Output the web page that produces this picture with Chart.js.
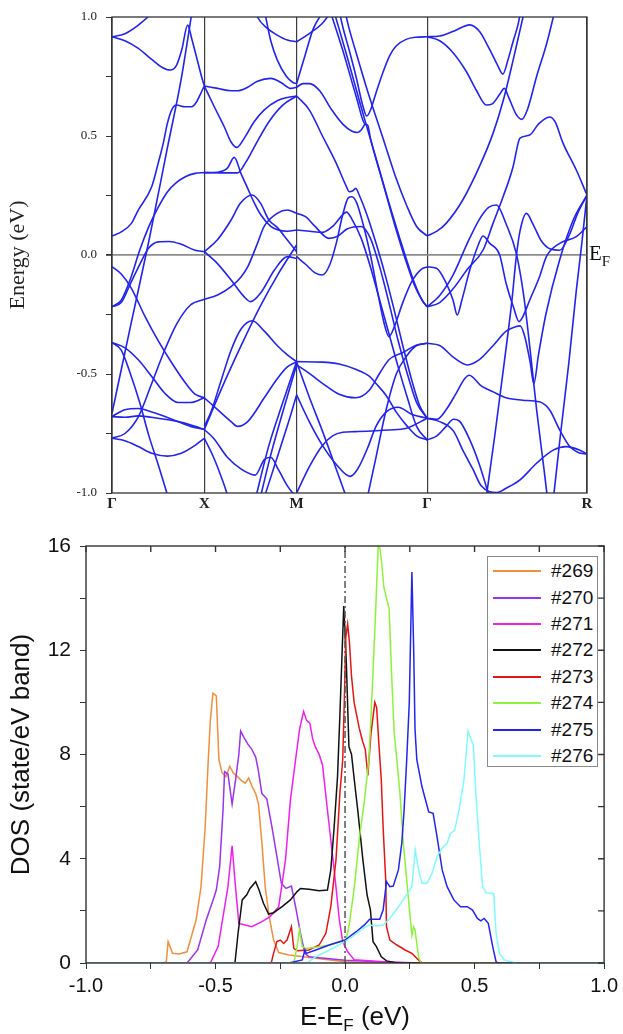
<!DOCTYPE html>
<html>
<head>
<meta charset="utf-8">
<script src="https://cdn.jsdelivr.net/npm/chart.js@4.4.1/dist/chart.umd.min.js"></script>
<style>
  html, body { margin: 0; padding: 0; background: #fff; }
  #wrap { position: relative; width: 623px; height: 1034px; overflow: hidden; }
  #bands { position: absolute; left: 0; top: 0; }
  #dos { position: absolute; left: 0; top: 520px; }
  #ef { position: absolute; left: 589px; top: 241px; font-family: "Liberation Serif", serif; font-size: 21px; color: #111; }
  #ef sub { font-size: 15px; vertical-align: -6px; }
  #xtitle { position: absolute; left: 250px; width: 210px; top: 1001px; text-align: center;
            font-family: "Liberation Sans", Arial, sans-serif; font-size: 26px; color: #111; }
  #xtitle sub { font-size: 17px; vertical-align: -6px; }
  #legend { position: absolute; left: 487px; top: 556px; width: 111px; height: 211px; box-sizing: border-box;
            border: 1px solid #8a8a8a; background: #fff; font-family: "Liberation Sans", Arial, sans-serif;
            font-size: 19px; color: #111; padding-top: 1px; }
  #legend .row { height: 26.4px; display: flex; align-items: center; }
  #legend .line { display: inline-block; width: 48px; height: 2px; margin: 0 10px 0 5px; }
</style>
</head>
<body>
<div id="wrap">
  <canvas id="bands" width="623" height="520"></canvas>
  <canvas id="dos" width="623" height="514"></canvas>
  <div id="ef">E<sub>F</sub></div>
  <div id="xtitle">E-E<sub>F</sub> (eV)</div>
  <div id="legend"></div>
</div>
<script>
// ---- band structure: k path in units of pi/a, energies in eV ----
const kPoints = [0, 1, 2, 3.414, 5.146];
const kLabels = ['Γ', 'X', 'M', 'Γ', 'R'];

// Γ - X
const bandsGX = [
  [[0,0.917],[0.14,0.93],[0.285,0.966],[0.39,1.0],[0.5,1.04]],
  [[0,0.917],[0.14,0.90],[0.285,0.868],[0.43,0.822],[0.54,0.789],[0.63,0.777],[0.70,0.798],[0.755,0.861],[0.82,0.966],[0.863,0.91],[0.917,0.83],[0.97,0.75],[1.0,0.71]],
  [[0,0.08],[0.105,0.098],[0.21,0.133],[0.285,0.189],[0.43,0.287],[0.50,0.385],[0.555,0.469],[0.60,0.553],[0.646,0.609],[0.70,0.63],[0.79,0.623],[0.863,0.623],[0.917,0.644],[0.97,0.686],[1.0,0.71]],
  [[0,-0.665],[0.2,-0.30],[0.4,0.06],[0.6,0.45],[0.75,0.74],[0.87,1.03]],
  [[0,-0.217],[0.1,-0.2],[0.2,-0.12],[0.3,-0.04],[0.4,0.03],[0.5,0.055],[0.62,0.057],[0.75,0.045],[0.9,0.02],[1.0,0.014]],
  [[0,-0.217],[0.1,-0.19],[0.2,-0.10],[0.3,0.02],[0.4,0.12],[0.5,0.2],[0.6,0.265],[0.7,0.305],[0.8,0.33],[0.9,0.343],[1.0,0.346]],
  [[0,-0.049],[0.1,-0.08],[0.21,-0.14],[0.36,-0.26],[0.5,-0.36],[0.65,-0.455],[0.8,-0.54],[0.9,-0.585],[1.0,-0.60]],
  [[0,-0.368],[0.14,-0.39],[0.285,-0.44],[0.43,-0.51],[0.57,-0.58],[0.72,-0.62],[0.85,-0.62],[1.0,-0.60]],
  [[0,-0.368],[0.1,-0.40],[0.2,-0.50],[0.3,-0.62],[0.4,-0.76],[0.5,-0.88],[0.61,-1.02]],
  [[0,-0.77],[0.14,-0.75],[0.285,-0.68],[0.43,-0.54],[0.57,-0.40],[0.7,-0.29],[0.85,-0.21],[1.0,-0.186]],
  [[0,-0.679],[0.14,-0.65],[0.285,-0.645],[0.43,-0.66],[0.65,-0.69],[0.85,-0.72],[1.0,-0.733]],
  [[0,-0.679],[0.14,-0.682],[0.285,-0.676],[0.5,-0.686],[0.72,-0.70],[0.9,-0.72],[1.0,-0.733]],
  [[0,-0.77],[0.14,-0.78],[0.285,-0.805],[0.43,-0.833],[0.6,-0.845],[0.75,-0.833],[0.9,-0.80],[1.0,-0.77]],
];

// X - M
const bandsXM = [
  [[1.55,1.03],[1.576,1.0],[1.683,0.952],[1.79,0.924],[1.90,0.903],[2.0,0.896]],
  [[1.0,0.71],[1.144,0.70],[1.288,0.69],[1.36,0.69],[1.47,0.705],[1.576,0.73],[1.72,0.742],[1.83,0.725],[1.935,0.70],[2.0,0.705]],
  [[1.65,1.03],[1.72,0.90],[1.79,0.82],[1.89,0.75],[1.96,0.725],[2.0,0.72]],
  [[1.0,0.71],[1.108,0.623],[1.216,0.539],[1.288,0.476],[1.353,0.452],[1.432,0.49],[1.54,0.56],[1.647,0.609],[1.79,0.648],[1.9,0.662],[2.0,0.668]],
  [[1.0,0.346],[1.144,0.348],[1.25,0.365],[1.324,0.41],[1.40,0.34],[1.47,0.28],[1.54,0.22],[1.61,0.17],[1.72,0.12],[1.80,0.105],[1.90,0.10],[2.0,0.105]],
  [[1.0,0.014],[1.14,0.063],[1.29,0.147],[1.39,0.217],[1.52,0.252],[1.61,0.217],[1.70,0.147],[1.79,0.116],[1.90,0.063],[2.0,0.014]],
  [[1.0,0.346],[1.2,0.345],[1.36,0.345],[1.45,0.39],[1.55,0.46],[1.70,0.56],[1.85,0.63],[2.0,0.668]],
  [[1.0,0.014],[1.14,-0.035],[1.29,-0.105],[1.43,-0.175],[1.50,-0.196],[1.61,-0.16],[1.76,-0.063],[1.90,-0.007],[2.0,-0.014]],
  [[1.0,-0.186],[1.144,-0.168],[1.29,-0.133],[1.40,-0.091],[1.47,-0.05],[1.576,0.049],[1.647,0.119],[1.79,0.175],[1.90,0.189],[2.0,0.175]],
  [[1.0,-0.72],[1.072,-0.66],[1.18,-0.53],[1.29,-0.40],[1.40,-0.31],[1.52,-0.276],[1.65,-0.32],[1.79,-0.38],[1.90,-0.42],[2.0,-0.448]],
  [[1.0,-0.60],[1.144,-0.65],[1.29,-0.70],[1.36,-0.72],[1.47,-0.70],[1.65,-0.60],[1.79,-0.52],[1.90,-0.47],[2.0,-0.448]],
  [[1.55,-1.03],[1.70,-0.80],[1.85,-0.62],[2.0,-0.448]],
  [[1.60,-1.03],[1.72,-0.84],[1.85,-0.66],[2.0,-0.462]],
  [[1.64,-1.03],[1.79,-0.85],[1.93,-0.68],[2.0,-0.588]],
  [[1.0,-0.733],[1.2,-0.55],[1.4,-0.38],[1.6,-0.22],[1.8,-0.08],[2.0,0.042]],
  [[1.0,-0.733],[1.1,-0.77],[1.25,-0.85],[1.4,-0.90],[1.55,-0.925],[1.65,-0.86],[1.72,-0.85],[1.8,-0.9],[1.9,-0.97],[2.0,-1.02]],
  [[1.0,-0.77],[1.1,-0.85],[1.2,-0.95],[1.27,-1.03]],
];

// M - Γ
const bandsMG = [
  [[2.0,0.896],[2.137,0.93],[2.282,0.975],[2.39,1.03]],
  [[2.0,0.72],[2.10,0.85],[2.18,0.95],[2.30,1.03]],
  [[2.46,1.03],[2.50,0.959],[2.57,0.86],[2.644,0.749],[2.72,0.623],[2.76,0.584],[2.80,0.608],[2.86,0.681],[2.934,0.766],[3.006,0.836],[3.078,0.878],[3.186,0.906],[3.29,0.915],[3.414,0.917]],
  [[2.52,1.03],[2.57,0.95],[2.66,0.83],[2.76,0.70],[2.86,0.58],[2.97,0.45],[3.08,0.32],[3.19,0.21],[3.30,0.12],[3.414,0.08]],
  [[2.36,1.03],[2.50,0.86],[2.65,0.66],[2.74,0.55],[2.77,0.545],[2.80,0.49],[2.93,0.31],[3.06,0.13],[3.18,-0.02],[3.28,-0.13],[3.36,-0.19],[3.414,-0.218]],
  [[2.40,1.03],[2.55,0.83],[2.70,0.62],[2.85,0.42],[3.0,0.22],[3.15,0.03],[3.27,-0.11],[3.36,-0.19],[3.414,-0.218]],
  [[2.0,0.705],[2.07,0.72],[2.14,0.72],[2.25,0.69],[2.38,0.61],[2.50,0.55],[2.60,0.52],[2.66,0.515],[2.70,0.525],[2.74,0.55]],
  [[2.0,0.668],[2.137,0.61],[2.28,0.50],[2.43,0.385],[2.54,0.287],[2.57,0.266],[2.61,0.27],[2.64,0.28],[2.68,0.25],[2.77,0.16],[2.86,0.05],[2.95,-0.07],[3.05,-0.22],[3.15,-0.38],[3.25,-0.53],[3.33,-0.63],[3.414,-0.686]],
  [[2.0,-0.007],[2.10,-0.04],[2.2,-0.075],[2.28,-0.084],[2.36,-0.04],[2.43,0.05],[2.50,0.17],[2.56,0.24],[2.60,0.245],[2.65,0.22],[2.72,0.13],[2.80,0.0],[2.88,-0.16],[2.95,-0.29],[3.0,-0.343],[3.06,-0.30],[3.15,-0.20],[3.25,-0.11],[3.35,-0.06],[3.414,-0.05]],
  [[2.0,0.105],[2.14,0.10],[2.28,0.095],[2.39,0.12],[2.50,0.17],[2.54,0.18],[2.60,0.15],[2.70,0.07],[2.80,-0.05],[2.90,-0.19],[3.0,-0.33],[3.1,-0.47],[3.2,-0.60],[3.3,-0.72],[3.414,-0.777]],
  [[2.0,0.175],[2.1,0.16],[2.2,0.12],[2.35,0.07],[2.45,0.08],[2.55,0.11],[2.70,0.12],[2.80,0.07],[2.90,-0.05],[3.0,-0.2],[3.1,-0.36],[3.2,-0.50],[3.3,-0.62],[3.414,-0.686]],
  [[2.0,-0.448],[2.28,-0.45],[2.46,-0.458],[2.64,-0.48],[2.79,-0.51],[2.86,-0.54],[2.97,-0.59],[3.08,-0.66],[3.2,-0.72],[3.3,-0.76],[3.414,-0.777]],
  [[2.0,-0.462],[2.137,-0.497],[2.28,-0.539],[2.46,-0.585],[2.64,-0.60],[2.79,-0.567],[2.9,-0.497],[3.0,-0.44],[3.15,-0.41],[3.29,-0.38],[3.414,-0.371]],
  [[2.0,-0.588],[2.137,-0.70],[2.28,-0.80],[2.43,-0.88],[2.58,-0.93],[2.66,-0.90],[2.77,-0.81],[2.86,-0.72],[2.97,-0.66],[3.1,-0.64],[3.25,-0.67],[3.414,-0.686]],
  [[2.0,-1.0],[2.137,-0.89],[2.28,-0.80],[2.39,-0.76],[2.50,-0.745],[2.64,-0.742],[3.0,-0.735],[3.19,-0.728],[3.414,-0.686]],
  [[2.0,-0.45],[2.14,-0.6],[2.28,-0.74],[2.43,-0.9],[2.55,-1.03]],
  [[2.76,-1.03],[2.86,-0.85],[2.97,-0.65],[3.08,-0.50],[3.2,-0.42],[3.3,-0.38],[3.414,-0.371]],
];

// Γ - R
const bandsGR = [
  [[3.414,0.917],[3.55,0.92],[3.70,0.94],[3.876,0.967],[3.98,0.94],[4.09,0.865],[4.18,0.795],[4.235,0.76],[4.29,0.82],[4.34,0.89],[4.40,0.97],[4.43,1.03]],
  [[3.414,0.917],[3.55,0.90],[3.695,0.85],[3.84,0.77],[3.95,0.69],[4.056,0.63],[4.12,0.635],[4.20,0.675],[4.25,0.70],[4.30,0.66],[4.38,0.59],[4.44,0.57],[4.50,0.61],[4.60,0.75],[4.71,0.89],[4.80,1.03]],
  [[3.414,0.08],[3.52,0.10],[3.62,0.133],[3.80,0.231],[3.98,0.371],[4.128,0.511],[4.24,0.651],[4.345,0.818],[4.453,1.0],[4.47,1.03]],
  [[3.414,-0.218],[3.55,-0.20],[3.70,-0.14],[3.85,-0.06],[4.02,0.021],[4.128,0.133],[4.237,0.245],[4.345,0.371],[4.40,0.47],[4.417,0.49],[4.525,0.504],[4.62,0.55],[4.74,0.58],[4.80,0.56],[4.886,0.47],[5.03,0.357],[5.146,0.252]],
  [[3.414,-0.218],[3.55,-0.17],[3.70,-0.08],[3.85,0.05],[3.98,0.15],[4.08,0.20],[4.165,0.21],[4.27,0.13],[4.38,0.007],[4.46,-0.17],[4.53,-0.40],[4.60,-0.65],[4.68,-0.90],[4.72,-1.03]],
  [[3.414,-0.05],[3.515,-0.056],[3.623,-0.12],[3.695,-0.19],[3.74,-0.252],[3.79,-0.19],[3.876,-0.063],[3.966,0.04],[4.02,0.08],[4.09,0.05],[4.20,0.0],[4.27,-0.12],[4.35,-0.22],[4.41,-0.28],[4.45,-0.26],[4.525,-0.19],[4.633,-0.09],[4.706,-0.007],[4.85,0.049],[5.03,0.077],[5.146,0.119]],
  [[4.05,-1.03],[4.15,-0.75],[4.25,-0.45],[4.33,-0.2],[4.38,-0.007],[4.42,0.1],[4.49,0.175],[4.56,0.13],[4.65,0.06],[4.75,0.025],[4.85,0.02],[4.95,0.08],[5.05,0.18],[5.146,0.252]],
  [[3.414,-0.371],[3.55,-0.38],[3.70,-0.43],[3.85,-0.462],[3.98,-0.44],[4.13,-0.38],[4.27,-0.32],[4.38,-0.30],[4.42,-0.298],[4.47,-0.34],[4.53,-0.45],[4.57,-0.54],[4.62,-0.42],[4.70,-0.25],[4.85,-0.02],[5.0,0.15],[5.146,0.252]],
  [[3.414,-0.686],[3.52,-0.69],[3.62,-0.65],[3.73,-0.58],[3.82,-0.52],[3.87,-0.505],[4.0,-0.55],[4.13,-0.575],[4.27,-0.60],[4.45,-0.61],[4.63,-0.617],[4.74,-0.65],[4.85,-0.735],[4.96,-0.805],[5.05,-0.83],[5.146,-0.836]],
  [[3.414,-0.686],[3.55,-0.70],[3.70,-0.74],[3.80,-0.82],[3.91,-0.90],[4.0,-0.97],[4.17,-0.998],[4.27,-0.98],[4.42,-0.945],[4.60,-0.875],[4.78,-0.82],[4.92,-0.805],[5.07,-0.82],[5.146,-0.836]],
  [[3.414,-0.777],[3.52,-0.76],[3.62,-0.72],[3.70,-0.69],[3.77,-0.70],[3.88,-0.78],[3.98,-0.88],[4.06,-0.98],[4.10,-1.03]],
  [[4.78,-1.03],[4.86,-0.75],[4.95,-0.45],[5.03,-0.15],[5.09,0.05],[5.146,0.252]],
];

// ---- DOS: energy (eV) vs DOS (state/eV band) ----
const dosNames = ['#269', '#270', '#271', '#272', '#273', '#274', '#275', '#276'];
const dosColors = ['#f08f3e', '#9a34ee', '#f01ff0', '#111111', '#e81414', '#8ef23c', '#2424f2', '#80fbfb'];

const dos269 = [[-1,0],[-0.70,0],[-0.69,0.05],[-0.683,0.82],[-0.666,0.37],[-0.64,0.35],[-0.61,0.43],[-0.575,1.65],[-0.556,2.93],[-0.54,5.2],[-0.528,7.8],[-0.52,9.3],[-0.51,10.35],[-0.497,10.25],[-0.487,7.8],[-0.475,7.3],[-0.46,7.15],[-0.445,7.55],[-0.432,7.3],[-0.415,7.15],[-0.40,7.0],[-0.385,6.9],[-0.372,7.1],[-0.36,6.8],[-0.345,6.5],[-0.334,6.1],[-0.321,4.6],[-0.308,2.9],[-0.293,1.8],[-0.276,0.88],[-0.256,0.40],[-0.217,0.31],[-0.113,0.18],[0,0.05],[0.08,0],[1,0]];
const dos270 = [[-1,0],[-0.61,0],[-0.569,0.5],[-0.536,1.65],[-0.51,2.4],[-0.497,2.8],[-0.484,3.7],[-0.471,5.87],[-0.465,7.34],[-0.452,7.25],[-0.436,6.1],[-0.423,7.0],[-0.41,8.0],[-0.403,8.9],[-0.39,8.65],[-0.375,8.4],[-0.36,8.2],[-0.345,7.9],[-0.335,7.4],[-0.321,6.5],[-0.302,6.3],[-0.282,5.2],[-0.263,4.08],[-0.246,3.06],[-0.228,2.86],[-0.207,2.95],[-0.191,2.16],[-0.172,1.14],[-0.155,0.37],[-0.139,0.24],[0,0.11],[0.147,0.04],[0.3,0],[1,0]];
const dos271 = [[-1,0],[-0.52,0],[-0.49,0.63],[-0.471,1.78],[-0.452,2.93],[-0.436,4.5],[-0.423,2.93],[-0.41,1.52],[-0.386,1.46],[-0.36,1.39],[-0.321,1.59],[-0.289,1.78],[-0.256,2.16],[-0.23,3.95],[-0.211,6.25],[-0.191,7.8],[-0.175,9.0],[-0.16,9.65],[-0.148,9.3],[-0.136,9.2],[-0.125,8.6],[-0.115,8.3],[-0.10,8.0],[-0.087,7.6],[-0.068,5.87],[-0.042,3.57],[-0.022,1.65],[-0.009,0.82],[0.01,0.43],[0.036,0.12],[0.147,0.05],[0.25,0],[1,0]];
const dos272 = [[-1,0],[-0.425,0],[-0.413,1.14],[-0.397,2.42],[-0.38,2.61],[-0.367,2.86],[-0.345,3.12],[-0.332,2.8],[-0.315,2.29],[-0.295,1.88],[-0.276,1.93],[-0.243,2.16],[-0.211,2.42],[-0.185,2.74],[-0.172,2.86],[-0.139,2.83],[-0.10,2.77],[-0.068,2.8],[-0.055,3.57],[-0.042,5.23],[-0.029,7.15],[-0.02,9.5],[-0.005,13.7],[0.005,11.5],[0.015,8.3],[0.025,8.0],[0.036,7.0],[0.049,5.87],[0.069,3.95],[0.085,2.61],[0.098,2.03],[0.108,0.82],[0.121,0.63],[0.14,0.24],[0.16,0.08],[0.2,0],[1,0]];
const dos273 = [[-1,0],[-0.285,0],[-0.276,0.37],[-0.263,0.82],[-0.25,0.88],[-0.237,0.75],[-0.224,0.88],[-0.207,1.39],[-0.198,0.56],[-0.185,0.47],[-0.139,0.5],[-0.10,0.69],[-0.074,1.14],[-0.055,2.16],[-0.035,3.95],[-0.02,6.5],[-0.009,7.8],[-0.003,10.0],[0.003,12.5],[0.01,13.0],[0.017,12.3],[0.025,11.0],[0.035,10.0],[0.045,9.5],[0.055,9.0],[0.068,8.5],[0.078,8.2],[0.088,7.2],[0.10,8.8],[0.115,10.0],[0.122,9.8],[0.13,8.5],[0.14,7.0],[0.147,5.2],[0.157,3.18],[0.16,1.39],[0.173,0.88],[0.2,0.69],[0.232,0.5],[0.258,0.37],[0.29,0.05],[0.30,0],[1,0]];
const dos274 = [[-1,0],[-0.198,0],[-0.185,0.63],[-0.176,1.27],[-0.165,0.63],[-0.152,0.56],[-0.113,0.6],[-0.061,0.69],[0.004,0.88],[0.017,1.52],[0.036,2.93],[0.056,4.85],[0.075,6.25],[0.092,7.8],[0.105,10.5],[0.118,13.5],[0.128,16.0],[0.135,15.9],[0.142,15.3],[0.15,14.4],[0.16,14.0],[0.17,13.6],[0.18,11.0],[0.19,8.8],[0.2,7.8],[0.212,6.5],[0.225,4.6],[0.245,2.42],[0.258,1.07],[0.264,1.39],[0.27,1.27],[0.284,0.24],[0.293,0],[1,0]];
const dos275 = [[-1,0],[-0.217,0],[-0.165,0.12],[-0.155,0.5],[-0.15,0.37],[-0.113,0.5],[-0.061,0.69],[0,0.88],[0.043,1.2],[0.075,1.46],[0.095,1.68],[0.134,1.68],[0.147,2.03],[0.16,3.12],[0.173,2.93],[0.186,2.95],[0.206,3.57],[0.219,4.6],[0.228,5.87],[0.238,7.8],[0.248,10.0],[0.258,15.0],[0.265,12.0],[0.27,9.0],[0.277,7.8],[0.297,6.76],[0.323,5.8],[0.34,5.74],[0.355,4.85],[0.375,3.57],[0.394,2.93],[0.42,2.42],[0.446,2.16],[0.472,2.16],[0.492,2.03],[0.511,1.71],[0.524,1.62],[0.537,1.71],[0.553,1.52],[0.57,0.63],[0.583,0.05],[0.59,0],[1,0]];
const dos276 = [[-1,0],[-0.146,0],[-0.113,0.24],[-0.074,0.43],[-0.035,0.63],[0,0.82],[0.036,1.07],[0.069,1.33],[0.095,1.46],[0.121,1.42],[0.147,1.46],[0.173,1.71],[0.206,2.16],[0.232,2.54],[0.258,2.93],[0.264,3.57],[0.271,4.34],[0.284,3.57],[0.297,3.06],[0.316,3.06],[0.336,3.44],[0.355,4.08],[0.375,4.4],[0.394,4.59],[0.407,4.97],[0.423,5.1],[0.44,5.87],[0.459,7.02],[0.475,8.9],[0.485,8.6],[0.495,8.4],[0.505,6.5],[0.518,4.6],[0.531,2.93],[0.545,2.7],[0.563,2.67],[0.574,2.67],[0.583,1.14],[0.596,0.37],[0.615,0.12],[0.66,0],[1,0]];
const dosSeries = [dos269, dos270, dos271, dos272, dos273, dos274, dos275, dos276];

// frame + mirrored ticks
const framePlugin = {
  id: 'frame',
  afterDatasetsDraw(chart, args, opts) {
    const { ctx, chartArea: a } = chart;
    ctx.save();
    ctx.strokeStyle = opts.color;
    ctx.lineWidth = opts.width;
    ctx.strokeRect(a.left, a.top, a.right - a.left, a.bottom - a.top);
    if (opts.mirror) {
      const len = opts.mirror;
      ctx.beginPath();
      chart.scales.x.ticks.forEach((t) => {
        const px = chart.scales.x.getPixelForValue(t.value);
        ctx.moveTo(px, a.top);
        ctx.lineTo(px, a.top + len);
      });
      chart.scales.y.ticks.forEach((t) => {
        const py = chart.scales.y.getPixelForValue(t.value);
        ctx.moveTo(a.right, py);
        ctx.lineTo(a.right - len, py);
      });
      ctx.stroke();
    }
    ctx.restore();
  },
};

const toXY = (pts) => pts.slice().sort((a, b) => a[0] - b[0]).map((p) => ({ x: p[0], y: p[1] }));
const isMult = (v, step) => Math.abs(v / step - Math.round(v / step)) < 1e-6;

// ---- top: band structure ----
const allBands = [...bandsGX, ...bandsXM, ...bandsMG, ...bandsGR];
new Chart(document.getElementById('bands'), {
  type: 'line',
  data: {
    datasets: allBands.map((b) => ({
      data: toXY(b),
      borderColor: '#2323ee',
      borderWidth: 1.6,
      pointRadius: 0,
      cubicInterpolationMode: 'monotone',
      fill: false,
    })),
  },
  options: {
    responsive: false,
    animation: false,
    devicePixelRatio: 1,
    layout: { padding: { top: 17, right: 36, left: 0, bottom: 0 } },
    plugins: { legend: { display: false }, tooltip: { enabled: false }, frame: { color: '#333', width: 1.3 } },
    scales: {
      x: {
        type: 'linear',
        min: 0,
        max: 5.146,
        afterBuildTicks: (s) => { s.ticks = kPoints.map((v) => ({ value: v })); },
        afterFit: (s) => { s.height = 27; },
        ticks: {
          autoSkip: false,
          maxRotation: 0,
          padding: 2,
          color: '#222',
          font: { family: 'Liberation Serif', size: 15, weight: 'bold' },
          callback: (v, i) => kLabels[i],
        },
        grid: { color: '#3c3c3c', lineWidth: 1.2, drawTicks: false },
        border: { display: false },
      },
      y: {
        min: -1,
        max: 1,
        afterFit: (s) => { s.width = 112; },
        ticks: {
          stepSize: 0.25,
          padding: 9,
          color: '#222',
          font: { family: 'Liberation Serif', size: 13 },
          callback: (v) => (isMult(v, 0.5) ? v.toFixed(1) : ''),
        },
        grid: {
          color: (c) => (c.tick && c.tick.value === 0 ? '#8c8c8c' : 'rgba(0,0,0,0)'),
          lineWidth: (c) => (c.tick && c.tick.value === 0 ? 1.8 : 1),
          tickColor: '#333',
          tickLength: 6,
        },
        border: { display: false },
        title: {
          display: true,
          text: 'Energy (eV)',
          color: '#222',
          font: { family: 'Liberation Serif', size: 22 },
          padding: { top: 5, bottom: 0 },
        },
      },
    },
  },
  plugins: [framePlugin],
});

// ---- bottom: DOS ----
const dosDatasets = dosSeries.map((s, i) => ({
  label: dosNames[i],
  data: toXY(s),
  borderColor: dosColors[i],
  borderWidth: 1.5,
  pointRadius: 0,
  tension: 0,
  order: -i,
}));
dosDatasets.push({
  label: 'EF',
  data: [{ x: 0, y: 0 }, { x: 0, y: 16 }],
  borderColor: '#555',
  borderWidth: 1.5,
  borderDash: [7, 3, 2, 3],
  pointRadius: 0,
  order: -20,
});

new Chart(document.getElementById('dos'), {
  type: 'line',
  data: { datasets: dosDatasets },
  options: {
    responsive: false,
    animation: false,
    devicePixelRatio: 1,
    layout: { padding: { top: 26, right: 16, left: 0, bottom: 0 } },
    plugins: { legend: { display: false }, tooltip: { enabled: false }, frame: { color: '#333', width: 1.4, mirror: 6 } },
    scales: {
      x: {
        type: 'linear',
        min: -1,
        max: 1,
        afterFit: (s) => { s.height = 71; },
        ticks: {
          stepSize: 0.25,
          padding: 5,
          color: '#111',
          font: { family: 'Liberation Sans', size: 20 },
          callback: (v) => (isMult(v, 0.5) ? v.toFixed(1) : ''),
        },
        grid: { drawOnChartArea: false, tickColor: '#333', tickLength: 6 },
        border: { display: false },
      },
      y: {
        min: 0,
        max: 16,
        afterFit: (s) => { s.width = 86; },
        ticks: {
          stepSize: 2,
          padding: 9,
          color: '#111',
          font: { family: 'Liberation Sans', size: 21 },
          callback: (v) => (isMult(v, 4) ? String(v) : ''),
        },
        grid: { drawOnChartArea: false, tickColor: '#333', tickLength: 6 },
        border: { display: false },
        title: {
          display: true,
          text: 'DOS (state/eV band)',
          color: '#111',
          font: { family: 'Liberation Sans', size: 26 },
          padding: { top: 6, bottom: 0 },
        },
      },
    },
  },
  plugins: [framePlugin],
});

// legend from the same names and colours
const legend = document.getElementById('legend');
dosNames.forEach((name, i) => {
  const row = document.createElement('div');
  row.className = 'row';
  const line = document.createElement('span');
  line.className = 'line';
  line.style.background = dosColors[i];
  const txt = document.createElement('span');
  txt.textContent = name;
  row.appendChild(line);
  row.appendChild(txt);
  legend.appendChild(row);
});
</script>
</body>
</html>
